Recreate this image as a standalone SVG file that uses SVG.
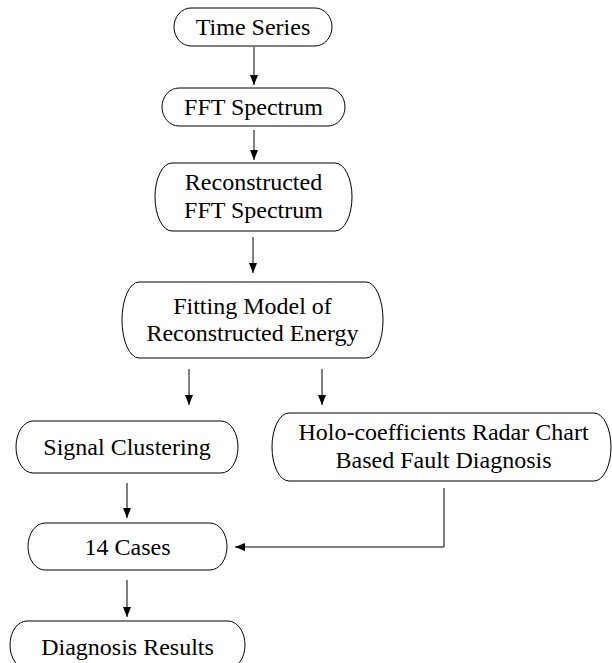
<svg xmlns="http://www.w3.org/2000/svg" width="612" height="663" viewBox="0 0 612 663">
<style>
.box{fill:#fff;stroke:#000;stroke-width:1}
.t{font-family:"Liberation Serif","Times New Roman",serif;font-size:24px;fill:#000;text-anchor:middle}
.c{fill:none;stroke:#000;stroke-width:1}
</style>
<defs>
<marker id="ah" viewBox="0 0 10 8" refX="10" refY="4" markerWidth="10" markerHeight="8" markerUnits="userSpaceOnUse" orient="auto">
<path d="M0,0 L10,4 L0,8 z" fill="#000"/>
</marker>
</defs>
<rect width="612" height="663" fill="#fff"/>
<g id="connectors">
<line class="c" x1="254" y1="47" x2="254" y2="85" marker-end="url(#ah)"/>
<line class="c" x1="254" y1="130" x2="254" y2="160" marker-end="url(#ah)"/>
<line class="c" x1="253" y1="237" x2="253" y2="273" marker-end="url(#ah)"/>
<line class="c" x1="189" y1="369" x2="189" y2="405" marker-end="url(#ah)"/>
<line class="c" x1="322" y1="369" x2="322" y2="405" marker-end="url(#ah)"/>
<line class="c" x1="127" y1="483" x2="127" y2="518" marker-end="url(#ah)"/>
<line class="c" x1="127" y1="580" x2="127" y2="617" marker-end="url(#ah)"/>
<polyline class="c" points="444,488 444,547 235,547" marker-end="url(#ah)"/>
</g>
<g id="time-series">
<rect class="box" x="174" y="8" width="158" height="38" rx="17" ry="19"/>
<text class="t" x="253" y="35">Time Series</text>
</g>
<g id="fft-spectrum">
<rect class="box" x="162" y="88" width="183" height="38" rx="17" ry="19"/>
<text class="t" x="253.5" y="115">FFT Spectrum</text>
</g>
<g id="reconstructed-fft">
<rect class="box" x="155" y="163" width="197" height="68" rx="17" ry="34"/>
<text class="t" x="253.5" y="190">Reconstructed</text>
<text class="t" x="253.5" y="218">FFT Spectrum</text>
</g>
<g id="fitting-model">
<rect class="box" x="122" y="282" width="261" height="76" rx="17" ry="38"/>
<text class="t" x="252.5" y="314">Fitting Model of</text>
<text class="t" x="252.5" y="341">Reconstructed Energy</text>
</g>
<g id="signal-clustering">
<rect class="box" x="16" y="421" width="222" height="52" rx="17" ry="26"/>
<text class="t" x="127" y="455">Signal Clustering</text>
</g>
<g id="holo-radar">
<rect class="box" x="272" y="413" width="339" height="68" rx="17" ry="34"/>
<text class="t" x="443.5" y="440">Holo-coefficients Radar Chart</text>
<text class="t" x="443.5" y="468">Based Fault Diagnosis</text>
</g>
<g id="cases">
<rect class="box" x="28" y="523" width="199" height="47" rx="17" ry="23.5"/>
<text class="t" x="127.5" y="555">14 Cases</text>
</g>
<g id="diagnosis-results">
<rect class="box" x="10" y="621" width="235" height="48" rx="17" ry="24"/>
<text class="t" x="127.5" y="655">Diagnosis Results</text>
</g>
</svg>
